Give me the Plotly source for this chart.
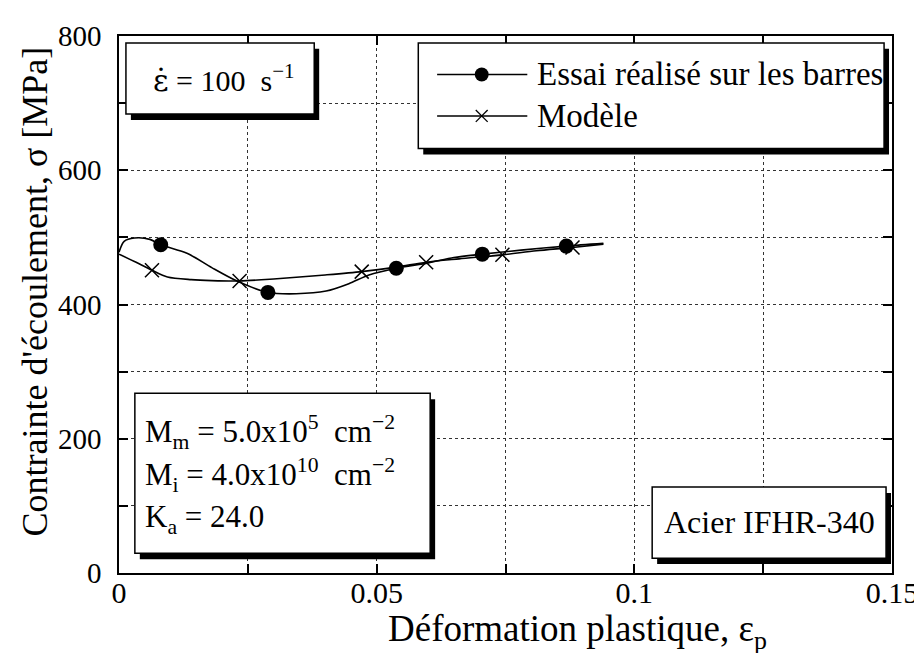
import plotly.graph_objects as go

# ---- data ----
essai_curve_x = [0.0, 0.001, 0.003, 0.006, 0.0081, 0.0133, 0.018, 0.0229, 0.0289, 0.0344, 0.0402, 0.0446, 0.0485, 0.0538, 0.060, 0.065, 0.0705, 0.078, 0.0868, 0.094]
essai_curve_y = [478, 494, 499, 497, 489, 476, 455, 435, 418, 416, 420, 431, 444, 454, 462, 470, 475, 481, 487, 491]
essai_pts_x = [0.0081, 0.0289, 0.0538, 0.0705, 0.0868]
essai_pts_y = [489, 418, 454, 475, 487]

model_curve_x = [0.0, 0.003, 0.0064, 0.0094, 0.014, 0.018, 0.0234, 0.030, 0.040, 0.0471, 0.054, 0.0596, 0.066, 0.0744, 0.081, 0.088, 0.094]
model_curve_y = [475, 464, 451, 441, 437, 435.5, 435, 438, 444, 449, 456, 463, 468, 474, 480, 485, 490]
model_pts_x = [0.0064, 0.0234, 0.0471, 0.0596, 0.0744, 0.0880]
model_pts_y = [451, 435, 449, 463, 474, 485]

x_ticks = [0, 0.05, 0.1, 0.15]
x_ticklabels = ["0", "0.05", "0.1", "0.15"]
y_ticks = [0, 200, 400, 600, 800]
y_ticklabels = ["0", "200", "400", "600", "800"]

x_title = "Déformation plastique, ε<sub>p</sub>"
y_title = "Contrainte d'écoulement, σ [MPa]"
legend_labels = ["Essai réalisé sur les barres", "Modèle"]
rate_text = "<span style='font-family:DejaVu Serif'>ε̇</span> = 100  s<sup>−1</sup>"
param_lines = ["M<sub>m</sub> = 5.0x10<sup>5</sup>  cm<sup>−2</sup>",
               "M<sub>i</sub> = 4.0x10<sup>10</sup>  cm<sup>−2</sup>",
               "K<sub>a</sub> = 24.0"]
material_text = "Acier IFHR-340"

# ---- layout geometry (pixels) ----
W, H = 922, 653
L, R, T, B = 111, 31, 21, 88
PW, PH = W - L - R, H - T - B
FONT = "Liberation Serif"


def px(x):
    return (x - L) / PW


def py(y):
    return (H - B - y) / PH


fig = go.Figure()
fig.add_trace(go.Scatter(x=essai_curve_x, y=essai_curve_y, mode="lines",
                         line=dict(color="black", width=1.6, shape="spline", smoothing=0.8),
                         showlegend=False, hoverinfo="skip"))
fig.add_trace(go.Scatter(x=model_curve_x, y=model_curve_y, mode="lines",
                         line=dict(color="black", width=1.6, shape="spline", smoothing=0.8),
                         showlegend=False, hoverinfo="skip"))
fig.add_trace(go.Scatter(x=essai_pts_x, y=essai_pts_y, mode="markers",
                         marker=dict(symbol="circle", size=15, color="black"),
                         showlegend=False))
fig.add_trace(go.Scatter(x=model_pts_x, y=model_pts_y, mode="markers",
                         marker=dict(symbol="x-thin-open", size=14, color="black",
                                     line=dict(color="black", width=1.5)),
                         showlegend=False))

shapes = []
annotations = []


def box(x0, y0, x1, y1, dx=5, dy=6):
    shapes.append(dict(type="rect", xref="paper", yref="paper",
                       x0=px(x0 + dx), x1=px(x1 + dx), y0=py(y0 + dy), y1=py(y1 + dy),
                       fillcolor="black", line=dict(width=0), layer="above"))
    shapes.append(dict(type="rect", xref="paper", yref="paper",
                       x0=px(x0), x1=px(x1), y0=py(y0), y1=py(y1),
                       fillcolor="white", line=dict(color="black", width=1.5), layer="above"))


def text(x, y, s, size, anchor="left", angle=0):
    annotations.append(dict(xref="paper", yref="paper", x=px(x), y=py(y), text=s,
                            showarrow=False, xanchor=anchor, yanchor="middle", textangle=angle,
                            font=dict(family=FONT, size=size, color="black")))


# rate box
box(118, 28, 308, 100)
text(216, 64, rate_text, 30, "center")

# legend box
box(413, 28, 883, 135)
rows = (60, 102)
for yy in rows:
    shapes.append(dict(type="line", xref="paper", yref="paper", x0=px(432), x1=px(523),
                       y0=py(yy), y1=py(yy), line=dict(color="black", width=1.5), layer="above"))
shapes.append(dict(type="circle", xref="paper", yref="paper", x0=px(470), x1=px(484),
                   y0=py(rows[0] - 7), y1=py(rows[0] + 7), fillcolor="black", line=dict(width=0), layer="above"))
for sgn in (1, -1):
    shapes.append(dict(type="line", xref="paper", yref="paper", x0=px(471), x1=px(483),
                       y0=py(rows[1] - 6 * sgn), y1=py(rows[1] + 6 * sgn),
                       line=dict(color="black", width=1.3), layer="above"))
text(531, rows[0], legend_labels[0], 33)
text(531, rows[1], legend_labels[1], 33)

# parameters box
box(127, 383, 425, 545)
for i, s in enumerate(param_lines):
    text(135, 422 + 44 * i, s, 31)

# material box
box(649, 478, 885, 550)
text(767, 513, material_text, 32, "center")

# axis titles
text(574, 624, x_title, 37, "center")
text(26, 280, y_title, 36, "center", angle=-90)

fig.update_layout(
    width=W, height=H,
    margin=dict(l=L, r=R, t=T, b=B),
    paper_bgcolor="white", plot_bgcolor="white",
    font=dict(family=FONT, size=30, color="black"),
    shapes=shapes, annotations=annotations,
    showlegend=False,
)
fig.update_xaxes(range=[0, 0.15], tickvals=x_ticks, ticktext=x_ticklabels,
                 showline=True, linecolor="black", linewidth=1.5, mirror="ticks",
                 ticks="inside", ticklen=9, tickcolor="black", tickwidth=1.5,
                 showgrid=True, gridcolor="#333", griddash="dot", gridwidth=1,
                 zeroline=False, tickfont=dict(size=30), ticklabelstandoff=-8,
                 minor=dict(dtick=0.025, tick0=0, showgrid=True, gridcolor="#333", griddash="dot",
                            ticks="inside", ticklen=9, tickcolor="black"))
fig.update_yaxes(range=[0, 800], tickvals=y_ticks, ticktext=y_ticklabels,
                 showline=True, linecolor="black", linewidth=1.5, mirror="ticks",
                 ticks="inside", ticklen=9, tickcolor="black", tickwidth=1.5,
                 showgrid=True, gridcolor="#333", griddash="dot", gridwidth=1,
                 zeroline=False, tickfont=dict(size=29), ticklabelstandoff=10,
                 minor=dict(dtick=100, tick0=0, showgrid=True, gridcolor="#333", griddash="dot",
                            ticks="inside", ticklen=9, tickcolor="black"))

fig.write_html("out.html")
